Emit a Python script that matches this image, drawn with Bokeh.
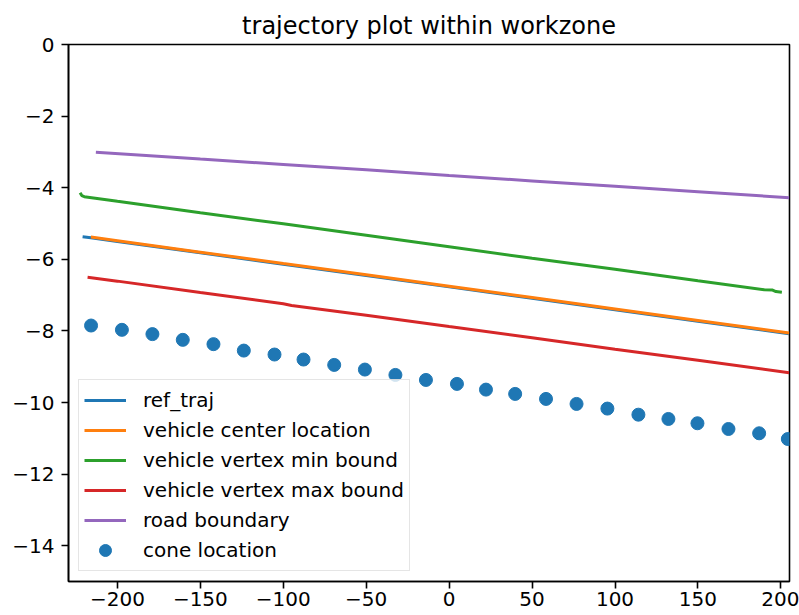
from bokeh.plotting import figure
from bokeh.models import Range1d, FixedTicker, Legend, LegendItem
from bokeh.embed import file_html
from bokeh.resources import INLINE

# ---- data ----
ref_x = [-221, -216, -200, -150, -100, -50, 0, 50, 100, 150, 205]
ref_y = [-5.37, -5.40, -5.50, -5.82, -6.14, -6.45, -6.77, -7.09, -7.41, -7.73, -8.08]

center_x = [-216, -200, -150, -100, -50, 0, 50, 100, 150, 205]
center_y = [-5.38, -5.48, -5.80, -6.12, -6.43, -6.75, -7.07, -7.39, -7.71, -8.06]

minb_x = [-222.5, -221.5, -220, -200, -150, -100, -50, 0, 50, 100, 150, 190, 195, 197, 200.6]
minb_y = [-4.14, -4.22, -4.25, -4.38, -4.70, -5.01, -5.33, -5.65, -5.97, -6.28, -6.60, -6.85, -6.86, -6.90, -6.92]

maxb_x = [-218, -200, -150, -100, -95, -50, 0, 50, 100, 150, 205]
maxb_y = [-6.50, -6.61, -6.93, -7.24, -7.29, -7.56, -7.88, -8.19, -8.51, -8.82, -9.17]

road_x = [-213, -150, -100, -50, 0, 50, 100, 150, 205]
road_y = [-3.01, -3.20, -3.35, -3.50, -3.66, -3.81, -3.96, -4.11, -4.28]

cone_x = [-215.9, -197.3, -178.9, -160.6, -142.1, -123.8, -105.3, -87.8, -69.3, -50.8,
          -32.4, -14.0, 4.7, 22.2, 39.8, 58.4, 76.8, 95.4, 114.1, 132.2, 149.7, 168.4,
          186.9, 204.2]
cone_y = [-7.85, -7.97, -8.09, -8.25, -8.37, -8.55, -8.66, -8.80, -8.95, -9.08,
          -9.23, -9.37, -9.48, -9.64, -9.76, -9.90, -10.04, -10.17, -10.34, -10.46,
          -10.58, -10.74, -10.86, -11.02]

x_ticks = [-200, -150, -100, -50, 0, 50, 100, 150, 200]
y_ticks = [0, -2, -4, -6, -8, -10, -12, -14]

labels = ["ref_traj", "vehicle center location", "vehicle vertex min bound",
          "vehicle vertex max bound", "road boundary", "cone location"]
colors = ["#1f77b4", "#ff7f0e", "#2ca02c", "#d62728", "#9467bd", "#1f77b4"]

FONT = "DejaVu Sans"

p = figure(width=799, height=615, output_backend="svg", toolbar_location=None,
           x_range=Range1d(-229.5, 205.2), y_range=Range1d(-15, 0),
           min_border_left=68, min_border_right=10, min_border_top=44, min_border_bottom=34,
           title="trajectory plot within workzone")
p.background_fill_color = "white"
p.border_fill_color = "white"
p.grid.visible = False
p.outline_line_color = "black"
p.outline_line_width = 1.6
p.outline_line_alpha = 1.0

p.title.text_font = FONT
p.title.text_font_size = "24px"
p.title.text_font_style = "normal"
p.title.text_color = "black"
p.title.align = "center"

def minus(v):
    return ("\u2212" + str(abs(v))) if v < 0 else str(v)

for ax, ticks in ((p.xaxis[0], x_ticks), (p.yaxis[0], y_ticks)):
    ax.ticker = FixedTicker(ticks=ticks)
    ax.major_label_overrides = {t: minus(t) for t in ticks}
    ax.major_label_text_font = FONT
    ax.major_label_text_font_size = "20px"
    ax.major_label_text_color = "black"
    ax.major_tick_out = 7
    ax.major_tick_in = 0
    ax.minor_tick_out = 0
    ax.minor_tick_in = 0
    ax.axis_line_width = 1.6
    ax.major_tick_line_width = 1.6
    ax.axis_line_color = "black"
    ax.major_tick_line_color = "black"
p.xaxis[0].major_label_standoff = 3
p.yaxis[0].major_label_standoff = 7

r_ref = p.line(ref_x, ref_y, line_color=colors[0], line_width=3)
r_center = p.line(center_x, center_y, line_color=colors[1], line_width=3)
r_min = p.line(minb_x, minb_y, line_color=colors[2], line_width=3)
r_max = p.line(maxb_x, maxb_y, line_color=colors[3], line_width=3)
r_road = p.line(road_x, road_y, line_color=colors[4], line_width=3)
r_cone = p.scatter(cone_x, cone_y, size=13, fill_color=colors[5], line_color=colors[5])

renderers = [r_ref, r_center, r_min, r_max, r_road, r_cone]
legend = Legend(items=[LegendItem(label=l, renderers=[r]) for l, r in zip(labels, renderers)],
                location="bottom_left")
legend.label_text_font = FONT
legend.label_text_font_size = "20px"
legend.label_text_color = "black"
legend.glyph_width = 42
legend.glyph_height = 30
legend.label_height = 30
legend.label_standoff = 17
legend.spacing = 0
legend.padding = 5
legend.margin = 10
legend.border_line_color = "#cccccc"
legend.border_line_width = 1
legend.background_fill_color = "white"
legend.background_fill_alpha = 0.8
p.add_layout(legend, "center")

open("out.html", "w").write(file_html(p, INLINE))
